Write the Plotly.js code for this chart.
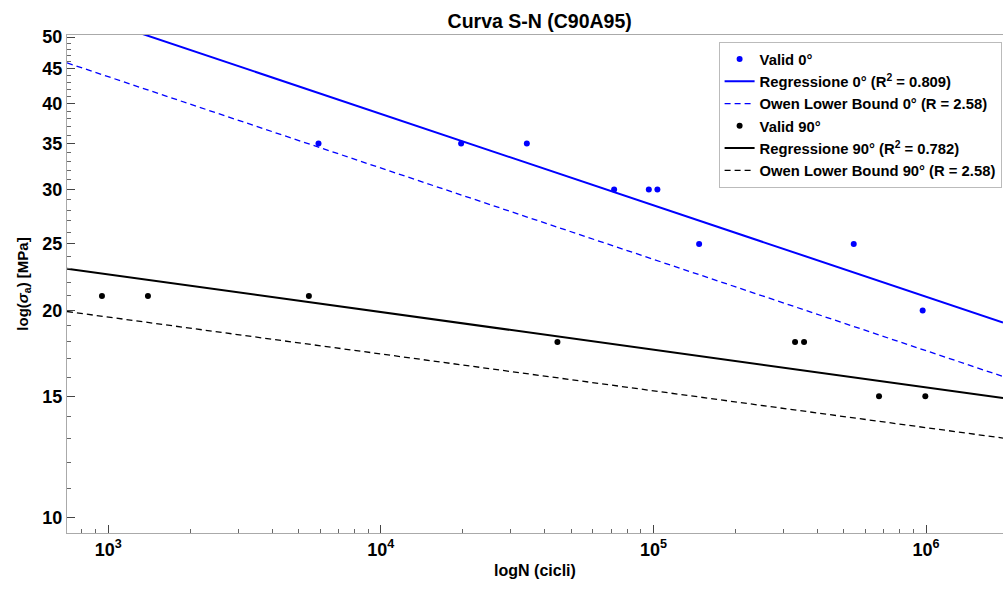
<!DOCTYPE html>
<html>
<head>
<meta charset="utf-8">
<script src="https://cdn.plot.ly/plotly-3.0.1.min.js"></script>
<style>html,body{margin:0;padding:0;background:#fff;}#chart{width:1003px;height:597px;}</style>
</head>
<body>
<div id="chart"></div>
<script>
// Valid points 0°
const n0 = [5905, 19700, 34320, 71750, 96150, 103400, 147100, 543000, 972000];
const s0 = [35, 35, 35, 30, 30, 30, 25, 25, 20];
// Valid points 90°
const n90 = [948, 1398, 5445, 44440, 330800, 356900, 672300, 994000];
const s90 = [21, 21, 21, 18, 18, 18, 15, 15];
// Line end points (read at the axis edges)
const lineN = [705.6, 1916000];
const reg0 = [55.0, 19.21];
const owen0 = [45.86, 16.03];
const reg90 = [23.0, 14.92];
const owen90 = [19.93, 13.04];
// Ticks
const xTickVals = [1e3, 1e4, 1e5, 1e6];
const xTickText = ['10<sup>3</sup>', '10<sup>4</sup>', '10<sup>5</sup>', '10<sup>6</sup>'];
const yTickVals = [10, 15, 20, 25, 30, 35, 40, 45, 50];
const yTickText = ['10', '15', '20', '25', '30', '35', '40', '45', '50'];
const xMinor = [];
[100, 1000, 10000, 100000, 1000000].forEach(d => { for (let k = 2; k <= 9; k++) xMinor.push(d * k); });
const yMinor = [];
for (let v = 9; v <= 51; v++) if (v % 5 !== 0) yMinor.push(v);

const BLUE = 'rgb(0,0,255)';
const font = 'Liberation Sans, Arial, sans-serif';

const traces = [
  {x: n0, y: s0, mode: 'markers', type: 'scatter', name: 'Valid 0°',
   marker: {color: BLUE, size: 6}},
  {x: lineN, y: reg0, mode: 'lines', type: 'scatter', name: 'Regressione 0° (R<sup>2</sup> = 0.809)',
   line: {color: BLUE, width: 2}},
  {x: lineN, y: owen0, mode: 'lines', type: 'scatter', name: 'Owen Lower Bound 0° (R = 2.58)',
   line: {color: BLUE, width: 1.3, dash: '6px,4px'}},
  {x: n90, y: s90, mode: 'markers', type: 'scatter', name: 'Valid 90°',
   marker: {color: 'black', size: 6}},
  {x: lineN, y: reg90, mode: 'lines', type: 'scatter', name: 'Regressione 90° (R<sup>2</sup> = 0.782)',
   line: {color: 'black', width: 2}},
  {x: lineN, y: owen90, mode: 'lines', type: 'scatter', name: 'Owen Lower Bound 90° (R = 2.58)',
   line: {color: 'black', width: 1.3, dash: '6px,4px'}}
];

const layout = {
  width: 1003, height: 597,
  margin: {l: 67, r: 0, t: 35, b: 64},
  paper_bgcolor: '#fff', plot_bgcolor: '#fff',
  font: {family: font, color: '#000'},
  showlegend: true,
  title: {text: '<b>Curva S-N (C90A95)</b>', font: {size: 19.5, family: font, color: '#000'},
          xref: 'paper', x: 0.505, xanchor: 'center', yref: 'container', y: 0.965, yanchor: 'middle'},
  xaxis: {
    type: 'log', range: [Math.log10(705.6), Math.log10(1916000)],
    tickmode: 'array', tickvals: xTickVals, ticktext: xTickText,
    tickfont: {size: 18, family: font, weight: 'bold', color: '#000'},
    ticks: 'inside', ticklen: 8, tickcolor: '#444', tickwidth: 1,
    minor: {tickmode: 'array', tickvals: xMinor, ticks: 'inside', ticklen: 4, tickcolor: '#666', showgrid: false},
    showline: true, linecolor: '#aaaaaa', linewidth: 1, mirror: true,
    showgrid: false, zeroline: false,
    title: {text: '<b>logN (cicli)</b>', font: {size: 16, family: font, color: '#000'}, standoff: 6}
  },
  yaxis: {
    type: 'log', range: [0.9771, 1.702],
    tickmode: 'array', tickvals: yTickVals, ticktext: yTickText,
    tickfont: {size: 18, family: font, weight: 'bold', color: '#000'},
    ticks: 'inside', ticklen: 8, tickcolor: '#444', tickwidth: 1,
    minor: {tickmode: 'array', tickvals: yMinor, ticks: 'inside', ticklen: 4, tickcolor: '#666', showgrid: false},
    showline: true, linecolor: '#aaaaaa', linewidth: 1, mirror: true,
    showgrid: false, zeroline: false,
    title: {text: '<b>log(<i>σ</i><sub>a</sub>) [MPa]</b>', font: {size: 15, family: font, color: '#000'}, standoff: 10}
  },
  legend: {
    x: 0.9985, xanchor: 'right', y: 0.986, yanchor: 'top',
    bgcolor: '#fff', bordercolor: '#bbbbbb', borderwidth: 1,
    font: {size: 14.8, family: font, weight: 'bold', color: '#000'},
    tracegroupgap: 0, itemwidth: 30
  }
};

Plotly.newPlot('chart', traces, layout, {displayModeBar: false, staticPlot: true});
</script>
</body>
</html>
